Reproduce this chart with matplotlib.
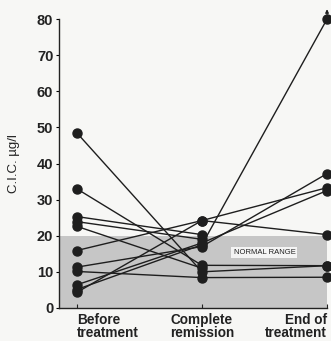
import matplotlib
matplotlib.use("Agg")
import matplotlib.pyplot as plt
from matplotlib.transforms import ScaledTranslation

stages = ["Before\ntreatment", "Complete\nremission", "End of\ntreatment"]
before = [48.5, 33.0, 25.3, 23.9, 22.6, 15.9, 11.3, 10.1, 6.4, 5.1, 4.3]
remission = [10.0, 11.8, 20.3, 19.0, 11.0, 24.2, 17.0, 8.4, 18.0, 17.5, 24.2]
end = [11.7, 11.7, None, None, None, 20.3, 37.2, 8.5, 32.5, 80.0, 33.3]
normal_upper = 20
y_ticks = [0, 10, 20, 30, 40, 50, 60, 70, 80]

plt.rcParams['font.family'] = ['Liberation Sans', 'DejaVu Sans']
bg = '#f7f7f5'
fig = plt.figure(figsize=(3.31, 3.41), dpi=100, facecolor=bg)
ax = fig.add_axes([0.178, 0.097, 0.810, 0.847], facecolor=bg)

ax.axhspan(0, normal_upper, color='#c6c6c6', zorder=0, lw=0)
ax.text(1.5, 15.3, "NORMAL RANGE", fontsize=5.5, ha='center', va='center',
        color='#222222', bbox=dict(facecolor='#f4f4f4', edgecolor='none', pad=1.5), zorder=1)

for b, r, e in zip(before, remission, end):
    xs = [0, 1]
    ys = [b, r]
    if e is not None:
        xs.append(2)
        ys.append(e)
    ax.plot(xs, ys, color='#1e1e1e', lw=1.0, marker='o', markersize=6.5,
            clip_on=False, zorder=3)

# small arrow above the top point
ax.annotate("", xy=(2, 83.5), xytext=(2, 80.5),
            arrowprops=dict(arrowstyle='-|>', color='#1e1e1e', lw=0.8, mutation_scale=5),
            annotation_clip=False)

ax.set_xlim(-0.143, 2.0)
ax.set_ylim(0, 80)
ax.set_yticks(y_ticks)
ax.set_yticklabels([str(t) for t in y_ticks], fontsize=10.5, fontweight='bold', color='#222222')
ax.set_xticks([0, 1, 2])
ax.set_xticklabels(stages, fontsize=9.8, fontweight='bold', color='#222222', linespacing=0.85)
labels = ax.get_xticklabels()
labels[0].set_ha('left'); labels[0].set_multialignment('left')
labels[2].set_ha('right'); labels[2].set_multialignment('right')
labels[0].set_transform(labels[0].get_transform() + ScaledTranslation(-0.02, 0, fig.dpi_scale_trans))
labels[2].set_transform(labels[2].get_transform() + ScaledTranslation(0.02, 0, fig.dpi_scale_trans))

ax.tick_params(axis='x', direction='in', length=3, width=0.8, pad=4, colors='#222222')
ax.tick_params(axis='y', direction='out', length=2, width=0.8, pad=2)
ax.spines['top'].set_visible(False)
ax.spines['right'].set_visible(False)
for s in ['left', 'bottom']:
    ax.spines[s].set_linewidth(1.0)
    ax.spines[s].set_color('#222222')

ax.set_ylabel("C.I.C. µg/l", fontsize=9.5, color='#222222', labelpad=12)

fig.savefig("out.png", dpi=100, facecolor=bg)
